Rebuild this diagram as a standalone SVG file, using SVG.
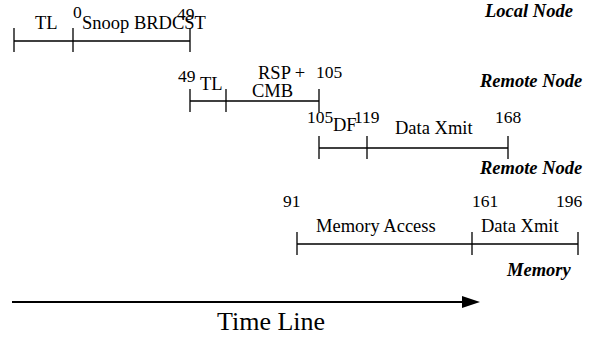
<svg xmlns="http://www.w3.org/2000/svg" width="592" height="339" viewBox="0 0 592 339">
  <style>
    .bar { stroke: #000; stroke-width: 1.3; fill: none; }
    .t { font-family: "Liberation Serif", "Times New Roman", serif; font-size: 18.5px; fill: #000; }
    .n { font-family: "Liberation Serif", "Times New Roman", serif; font-size: 17.5px; fill: #000; }
    .lbl { font-family: "Liberation Serif", "Times New Roman", serif; font-size: 18.5px; font-weight: bold; font-style: italic; fill: #000; }
    .big { font-family: "Liberation Serif", "Times New Roman", serif; font-size: 26px; fill: #000; }
  </style>
  <defs>
    <marker id="arrowhead" markerWidth="9" markerHeight="6" refX="0" refY="3" orient="auto" markerUnits="strokeWidth">
      <polygon points="0,0 9,3 0,6" fill="#000"/>
    </marker>
  </defs>
  <rect width="592" height="339" fill="#fff"/>

  <!-- local node: TL + snoop broadcast -->
  <g id="local-node">
    <path class="bar" d="M14,41 H190 M14,28 V52 M73,28 V52 M190,28 V52"/>
    <text class="t" x="35" y="29">TL</text>
    <text class="n" x="73" y="18">0</text>
    <text class="t" x="82" y="29">Snoop BRDCST</text>
    <text class="n" x="177" y="20">49</text>
    <text class="lbl" x="485" y="17">Local Node</text>
  </g>

  <!-- remote node: TL + response/combine -->
  <g id="remote-node-rsp">
    <path class="bar" d="M190,101 H319 M190,89 V112 M226,89 V112 M319,89 V112"/>
    <text class="n" x="178" y="82">49</text>
    <text class="t" x="200" y="90">TL</text>
    <text class="t" x="258" y="79">RSP +</text>
    <text class="t" x="252" y="97">CMB</text>
    <text class="n" x="316" y="78">105</text>
    <text class="lbl" x="480" y="87">Remote Node</text>
  </g>

  <!-- remote node: DF + data transmit -->
  <g id="remote-node-data">
    <path class="bar" d="M319,148 H508 M319,136 V159 M367,136 V159 M508,136 V159"/>
    <text class="n" x="307" y="123">105</text>
    <text class="t" x="333" y="131">DF</text>
    <text class="n" x="354" y="123">119</text>
    <text class="t" x="395" y="134">Data Xmit</text>
    <text class="n" x="495" y="123">168</text>
    <text class="lbl" x="480" y="174">Remote Node</text>
  </g>

  <!-- memory: access + data transmit -->
  <g id="memory">
    <path class="bar" d="M297,244 H578 M297,232 V255 M472,232 V255 M578,232 V255"/>
    <text class="n" x="283" y="207">91</text>
    <text class="n" x="472" y="207">161</text>
    <text class="n" x="556" y="207">196</text>
    <text class="t" x="316" y="232">Memory Access</text>
    <text class="t" x="481" y="232">Data Xmit</text>
    <text class="lbl" x="507" y="276">Memory</text>
  </g>

  <!-- time axis -->
  <g id="connectors">
    <line x1="12" y1="302" x2="462" y2="302" stroke="#000" stroke-width="2" marker-end="url(#arrowhead)"/>
  </g>
  <g id="time-line">
    <text class="big" x="217" y="330">Time Line</text>
  </g>
</svg>
